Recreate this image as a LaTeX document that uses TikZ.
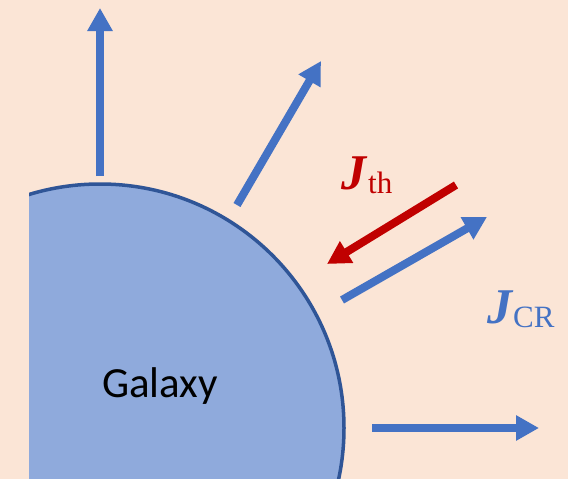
\documentclass[tikz,border=0pt]{standalone}
\usepackage{fontspec}
\setmainfont{Liberation Serif}
\newfontfamily\galfont{Carlito}
\usetikzlibrary{arrows.meta}
\definecolor{cbg}{HTML}{FBE5D6}
\definecolor{cgal}{HTML}{8FAADC}
\definecolor{cedge}{HTML}{2F5597}
\definecolor{cflow}{HTML}{4472C4}
\definecolor{cth}{HTML}{C00000}

\begin{document}
\begin{tikzpicture}[
  x=1pt, y=-1pt,
  >={Triangle[length=23pt, width=24pt]},
  flow/.style={->, line width=8pt, draw=cflow},
  thflow/.style={flow, draw=cth},
  lab/.style={inner sep=0pt, anchor=base west},
]
% ---- background ----
\fill[cbg] (0,0) rectangle (568,479);
\useasboundingbox (0,0) rectangle (568,479);

% ---- galaxy ----
\begin{scope}
  \clip (29,0) rectangle (580,490);
  \fill[cgal] (100,428) circle[radius=244];
  \draw[cedge, line width=3.5pt] (100,428) circle[radius=244];
\end{scope}
\node[font=\galfont\fontsize{43}{50}\selectfont, inner sep=0pt, anchor=base] (gal) at (160,397) {Galaxy};

% ---- outflow ends ----
\coordinate (up0) at (100,176);   \coordinate (up1) at (100,8);
\coordinate (ne0) at (237,205);   \coordinate (ne1) at (321,61);
\coordinate (th0) at (456,185);   \coordinate (th1) at (327,264);
\coordinate (cr0) at (342,300);   \coordinate (cr1) at (487,217);
\coordinate (rt0) at (372,428);   \coordinate (rt1) at (539,428);

% ---- flows ----
\draw[flow] (up0) -- (up1);
\draw[flow] (ne0) -- (ne1);
\draw[thflow] (th0) -- (th1);
\draw[flow] (cr0) -- (cr1);
\draw[flow] (rt0) -- (rt1);

% ---- labels ----
\node[lab, text=cth] (jth) at (341,189)
  {{\fontsize{50}{50}\selectfont\bfseries\itshape J}\hspace{2pt}\raisebox{-4pt}{\fontsize{31}{31}\selectfont th}};
\node[lab, text=cflow] (jcr) at (487,323)
  {{\fontsize{50}{50}\selectfont\bfseries\itshape J}\hspace{1pt}\raisebox{-4pt}{\fontsize{31}{31}\selectfont CR}};
\end{tikzpicture}
\end{document}
